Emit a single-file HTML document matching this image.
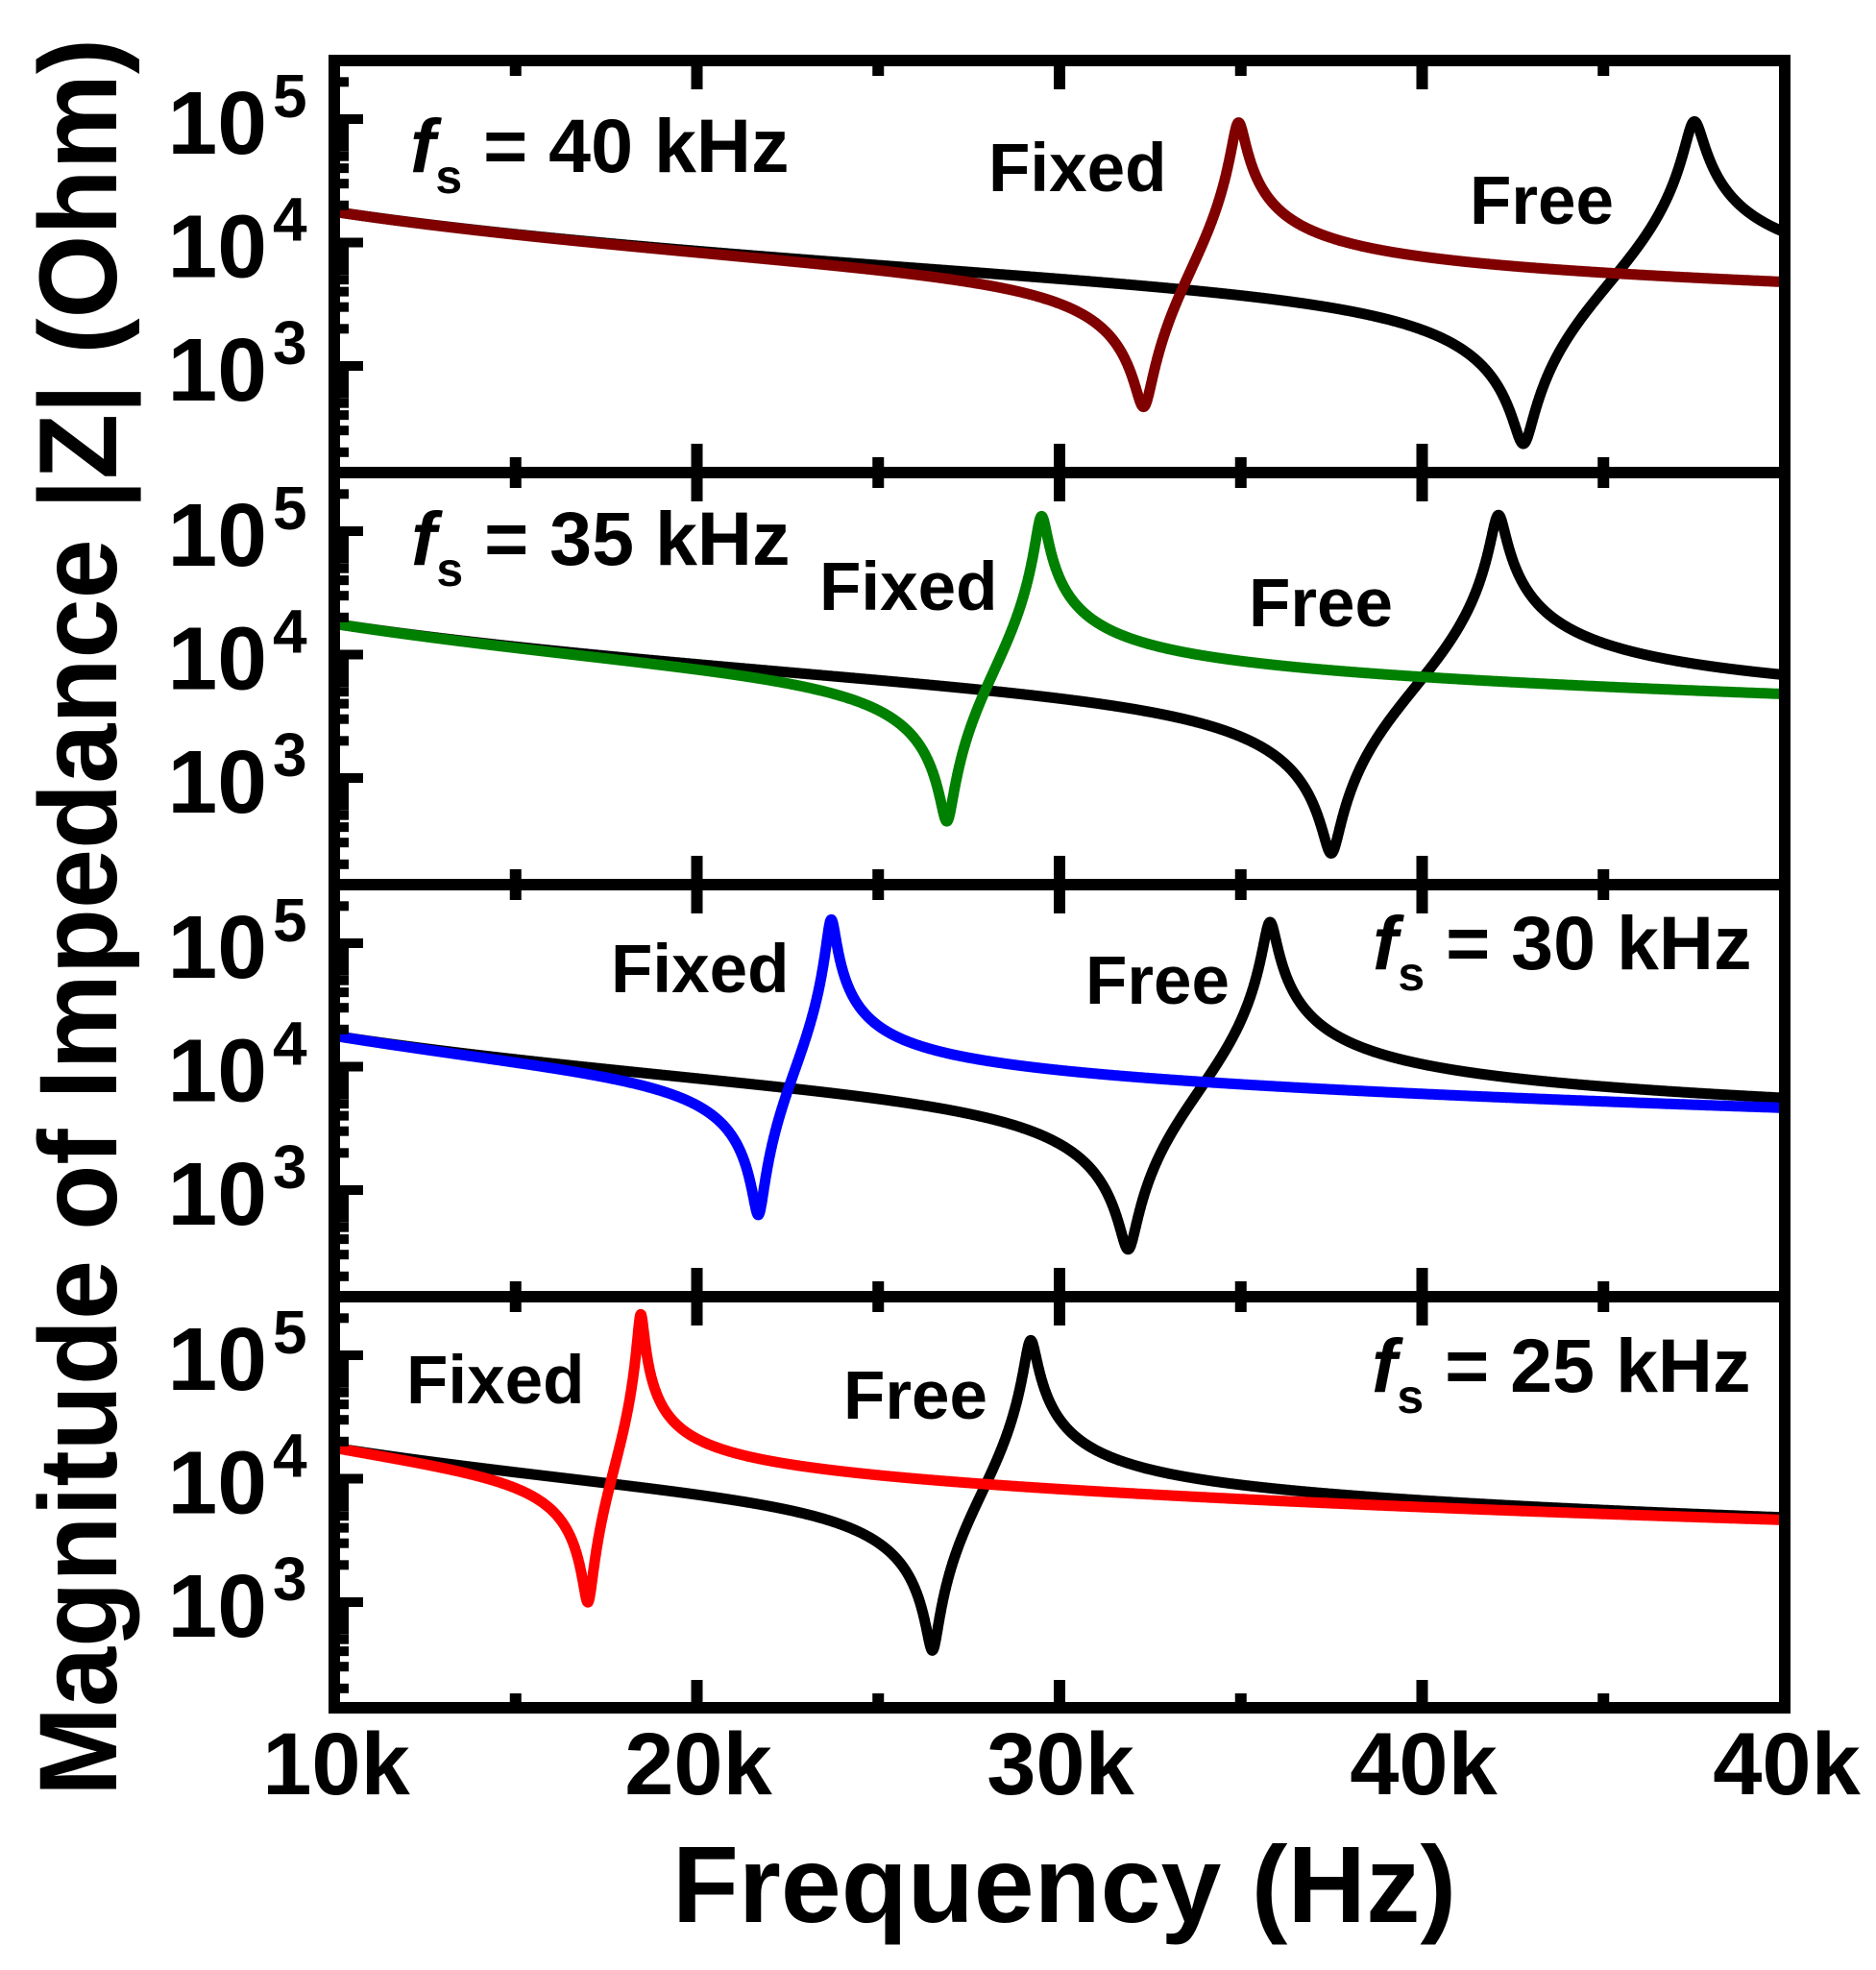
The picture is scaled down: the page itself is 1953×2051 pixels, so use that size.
<!DOCTYPE html>
<html><head><meta charset="utf-8">
<style>html,body{margin:0;padding:0;background:#fff}svg{display:block}
text{font-family:"Liberation Sans",Arial,sans-serif;font-weight:bold;fill:#000}</style></head>
<body>
<svg id="s" width="1953" height="2051" viewBox="0 0 1953 2051" xmlns="http://www.w3.org/2000/svg">
<g id="curves" fill="none" stroke-width="11" stroke-linejoin="round" stroke-linecap="round"></g>
<g id="axes"></g>
<text x="427" y="179" font-size="79"><tspan font-style="italic">f</tspan><tspan font-size="50" dy="22">s</tspan><tspan dy="-22"> = 40 kHz</tspan></text>
<text x="1029" y="199" font-size="71">Fixed</text>
<text x="1530" y="233" font-size="71">Free</text>
<text x="428" y="588" font-size="79"><tspan font-style="italic">f</tspan><tspan font-size="50" dy="22">s</tspan><tspan dy="-22"> = 35 kHz</tspan></text>
<text x="853" y="635" font-size="71">Fixed</text>
<text x="1300" y="652" font-size="71">Free</text>
<text x="1429" y="1009" font-size="79"><tspan font-style="italic">f</tspan><tspan font-size="50" dy="22">s</tspan><tspan dy="-22"> = 30 kHz</tspan></text>
<text x="636" y="1033" font-size="71">Fixed</text>
<text x="1130" y="1045" font-size="71">Free</text>
<text x="1428" y="1449" font-size="79"><tspan font-style="italic">f</tspan><tspan font-size="50" dy="22">s</tspan><tspan dy="-22"> = 25 kHz</tspan></text>
<text x="423" y="1461" font-size="71">Fixed</text>
<text x="878" y="1477" font-size="71">Free</text>
<g font-size="92" text-anchor="middle">
<text x="350" y="1868">10k</text><text x="727" y="1868">20k</text><text x="1104" y="1868">30k</text><text x="1482" y="1868">40k</text><text x="1860" y="1868">40k</text>
</g>
<text x="1108" y="2001" font-size="113" text-anchor="middle">Frequency (Hz)</text>
<text transform="translate(121,955) rotate(-90)" font-size="115" text-anchor="middle" textLength="1830" lengthAdjust="spacingAndGlyphs">Magnitude of Impedance |Z| (Ohm)</text>
</svg>
<script>
(function(){
var NS="http://www.w3.org/2000/svg";
var ax=document.getElementById('axes'), cv=document.getElementById('curves');
function el(p,t,a){var e=document.createElementNS(NS,t);for(var k in a)e.setAttribute(k,a[k]);p.appendChild(e);return e;}
var X0=348, SX=37.75, DEC=128.5, Y5=124, PH=429;
function xf(f){return X0+(f-10)*SX;}
function yl(k,l){return Y5+PH*k-(l-5)*DEC;}
el(ax,'rect',{x:348,y:63,width:1510,height:1715,fill:'none',stroke:'#000','stroke-width':12});
for(var k=1;k<4;k++) el(ax,'rect',{x:342,y:63+PH*k-6,width:1522,height:12,fill:'#000'});
for(var k=0;k<4;k++){
  var top=63+PH*k+6, bot=63+PH*(k+1)-6;
  for(var n=2;n<=5;n++){for(var m=1;m<=9;m++){
    var l=n+Math.log10(m); if(l<2.17||l>5.46) continue;
    var y=yl(k,l), len=(m==1)?24:9;
    el(ax,'rect',{x:354,y:y-5,width:len,height:10,fill:'#000'});
  }}
  [5,4,3].forEach(function(n){
    var y=yl(k,n);
    var t=el(ax,'text',{x:278,y:y+36,'font-size':93,'text-anchor':'end'});t.textContent='10';
    var s=el(ax,'text',{x:284,y:y-2,'font-size':64});s.textContent=String(n);
  });
  for(var f=15;f<50;f+=5){
    var major=(f%10==0), len=major?24:10, x=xf(f);
    el(ax,'rect',{x:x-6,y:bot-len,width:12,height:len,fill:'#000'});
    el(ax,'rect',{x:x-6,y:top,width:12,height:len,fill:'#000'});
  }
}
function curve(k,col,fr,fa,lmin,lmax){
  var Zmin=Math.pow(10,lmin), Zmax=Math.pow(10,lmax);
  var L0=Math.pow(10,4.25);
  var K=L0*10*Math.abs(fa*fa-100)/Math.abs(fr*fr-100);
  var ga=K/fa*Math.abs(fa*fa-fr*fr)/(fa*Zmax);
  var gr=Zmin*Math.abs(fr*fr-fa*fa)/K;
  var d='';
  for(var i=0;i<=8000;i++){
    var f=10+40*i/8000;
    var nr=f*f-fr*fr, ni=gr*f, dr=f*f-fa*fa, di=ga*f;
    var z=K/f*Math.sqrt(nr*nr+ni*ni)/Math.sqrt(dr*dr+di*di);
    var y=yl(k,Math.log10(z));
    d+=(i?'L':'M')+xf(f).toFixed(1)+' '+y.toFixed(1);
  }
  el(cv,'path',{d:d,stroke:col});
}
curve(0,'#000',42.8,47.5,2.37,4.98);
curve(0,'#800000',32.33,34.93,2.67,4.97);
curve(1,'#000',37.5,42.1,2.39,5.13);
curve(1,'#008000',26.9,29.5,2.65,5.12);
curve(2,'#000',31.9,35.8,2.52,5.17);
curve(2,'#0000ff',21.7,23.7,2.8,5.19);
curve(3,'#000',26.5,29.2,2.61,5.12);
curve(3,'#ff0000',17.0,18.45,3.0,5.33);
})();
</script>
</body></html>
